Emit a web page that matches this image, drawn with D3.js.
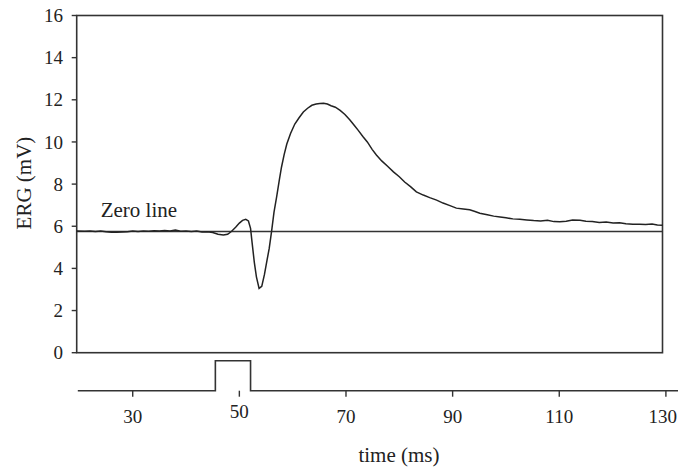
<!DOCTYPE html>
<html>
<head>
<meta charset="utf-8">
<script src="https://cdn.jsdelivr.net/npm/d3@7"></script>
<style>
  body { margin: 0; background: #fff; }
</style>
</head>
<body>
<svg id="svg" width="678" height="467"></svg>
<script>
// Global data
var ergTimes = [19.5, 21, 22, 23, 24, 25, 26, 27, 28, 29, 30, 31, 32, 33, 34, 35, 36, 37, 38, 39,
  40, 41, 42, 43, 44, 45, 46, 47, 47.8, 48.5, 49.3, 50, 50.6, 51.2, 51.7, 52.1, 52.4, 52.8, 53.2, 53.7,
  54.2, 54.7, 55.2, 55.6, 56.05, 56.5, 57, 57.5, 57.9, 58.4, 58.9, 59.6, 60.4, 61.2, 62, 62.8, 63.6, 64.4,
  65.1, 65.8, 66.5, 67.2, 68, 68.9, 69.8, 70.7, 71.5, 72.3, 73.2, 74, 74.9, 75.7, 76.7, 77.8, 78.9, 80,
  81, 82.1, 83.2, 84.5, 85.7, 87, 88.2, 89.5, 90.7, 92, 93.2, 94.2, 95.1, 96.5, 97.7, 98.9, 100, 101.3,
  102.6, 103.9, 105.2, 106.5, 107.8, 109, 110.1, 111.3, 112.5, 113.9, 115, 116.2, 117.5, 118.8, 120.1,
  121.3, 122.5, 123.8, 125.1, 126.2, 127.4, 128.4, 129.4];
var ergValues = [5.77, 5.76, 5.78, 5.75, 5.77, 5.74, 5.72, 5.72, 5.73, 5.74, 5.77, 5.75, 5.78, 5.76, 5.79, 5.77, 5.80, 5.78, 5.82, 5.76,
  5.78, 5.75, 5.77, 5.73, 5.74, 5.70, 5.62, 5.58, 5.62, 5.75, 5.95, 6.15, 6.28, 6.33, 6.25, 5.9, 5.2, 4.3, 3.6, 3.05,
  3.15, 3.7, 4.4, 4.95, 5.77, 6.67, 7.4, 8.2, 8.8, 9.4, 9.9, 10.4, 10.85, 11.15, 11.42, 11.6, 11.74, 11.8,
  11.82, 11.84, 11.8, 11.72, 11.65, 11.5, 11.3, 11.05, 10.8, 10.55, 10.25, 10.0, 9.65, 9.38, 9.1, 8.85, 8.58, 8.35,
  8.1, 7.88, 7.63, 7.48, 7.36, 7.24, 7.1, 6.98, 6.86, 6.82, 6.78, 6.7, 6.62, 6.55, 6.48, 6.44, 6.4, 6.35,
  6.33, 6.3, 6.27, 6.25, 6.28, 6.22, 6.21, 6.24, 6.3, 6.28, 6.24, 6.22, 6.18, 6.2, 6.15,
  6.17, 6.12, 6.1, 6.1, 6.08, 6.11, 6.06, 6.05];
var zeroLine = 5.75;

// stimulus pulse (0 = off, 1 = on)
var stimTimes = [19.7, 45.5, 45.5, 52.1, 52.1, 133];
var stimLevels = [0, 0, 1, 1, 0, 0];

var yTicks = [0, 2, 4, 6, 8, 10, 12, 14, 16];
var xTicks = [30, 50, 70, 90, 110, 130];

/* Layout
 *
 * plot box is drawn on its own, the time axis sits under the stimulus trace
 *
 */
var svg = d3.select("#svg")
    .style("font-family", "'Liberation Serif', 'DejaVu Serif', 'Times New Roman', serif");
var box = {left: 76.7, right: 662.5, top: 15.5, bottom: 352.7};

var x = d3.scaleLinear().domain([20, 130]).range([79.4, 665.9]);
var y = d3.scaleLinear().domain([0, 16]).range([352.7, 15.5]);
var yStim = d3.scaleLinear().domain([0, 1]).range([390.7, 360.7]);

// plot frame
svg.append("rect")
    .attr("x", box.left)
    .attr("y", box.top)
    .attr("width", box.right - box.left)
    .attr("height", box.bottom - box.top)
    .attr("fill", "none")
    .attr("stroke", "#333")
    .attr("stroke-width", 1.6);

// y axis ticks + labels
var yAxis = svg.append("g").attr("class", "y-axis");
yAxis.selectAll("line")
    .data(yTicks)
    .enter().append("line")
      .attr("x1", box.left - 5)
      .attr("x2", box.left)
      .attr("y1", function(d) { return y(d); })
      .attr("y2", function(d) { return y(d); })
      .attr("stroke", "#333")
      .attr("stroke-width", 1.4);
yAxis.selectAll("text")
    .data(yTicks)
    .enter().append("text")
      .attr("x", 63)
      .attr("y", function(d) { return y(d); })
      .attr("dy", "0.35em")
      .attr("text-anchor", "end")
      .attr("fill", "#222")
      .style("font-size", "19px")
      .text(function(d) { return d; });

svg.append("text")
    .attr("transform", "translate(31,183) rotate(-90)")
    .attr("text-anchor", "middle")
    .attr("fill", "#222")
    .style("font-size", "21px")
    .text("ERG (mV)");

// zero line
svg.append("line")
    .attr("x1", box.left)
    .attr("x2", box.right)
    .attr("y1", y(zeroLine))
    .attr("y2", y(zeroLine))
    .attr("stroke", "#333")
    .attr("stroke-width", 1.4);

svg.append("text")
    .attr("x", 100.7)
    .attr("y", 217.3)
    .attr("fill", "#222")
    .style("font-size", "21px")
    .text("Zero line");

// ERG trace
var ergData = ergTimes.map(function(t, i) { return {t: t, v: ergValues[i]}; });
var line = d3.line()
    .x(function(d) { return x(d.t); })
    .y(function(d) { return y(d.v); });

svg.append("path")
    .datum(ergData)
    .attr("d", line)
    .attr("fill", "none")
    .attr("stroke", "#222")
    .attr("stroke-width", 1.5);

// stimulus trace
var stimData = stimTimes.map(function(t, i) { return {t: t, v: stimLevels[i]}; });
svg.append("path")
    .datum(stimData)
    .attr("d", d3.line()
        .x(function(d) { return x(d.t); })
        .y(function(d) { return yStim(d.v); }))
    .attr("fill", "none")
    .attr("stroke", "#333")
    .attr("stroke-width", 1.6);

// time axis
var xAxis = svg.append("g").attr("class", "x-axis");
xAxis.selectAll("line")
    .data(xTicks)
    .enter().append("line")
      .attr("x1", function(d) { return x(d); })
      .attr("x2", function(d) { return x(d); })
      .attr("y1", yStim(0))
      .attr("y2", yStim(0) + 6)
      .attr("stroke", "#333")
      .attr("stroke-width", 1.4);
// last label is pushed in so it stays inside the picture
xAxis.selectAll("text")
    .data(xTicks)
    .enter().append("text")
      .attr("x", function(d) { return d == 130 ? 677 : x(d); })
      .attr("y", function(d) { return d == 50 ? 418 : 423; })
      .attr("text-anchor", function(d) { return d == 130 ? "end" : "middle"; })
      .attr("fill", "#222")
      .style("font-size", "19px")
      .text(function(d) { return d; });

svg.append("text")
    .attr("x", 399)
    .attr("y", 462)
    .attr("text-anchor", "middle")
    .attr("fill", "#222")
    .style("font-size", "21px")
    .text("time (ms)");
</script>
</body>
</html>
